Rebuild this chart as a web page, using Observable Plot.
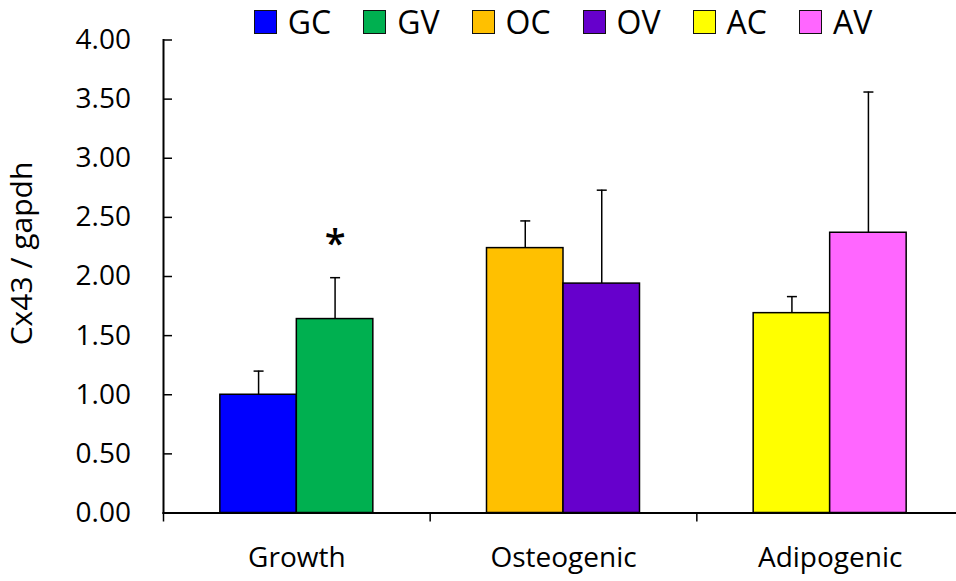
<!DOCTYPE html>
<html>
<head>
<meta charset="utf-8">
<script src="https://cdn.jsdelivr.net/npm/d3@7"></script>
<script src="https://cdn.jsdelivr.net/npm/@observablehq/plot@0.6"></script>
<style>
  html, body { margin: 0; padding: 0; background: #fff; }
  #chart { position: relative; width: 956px; height: 581px; font-family: "Open Sans", sans-serif; overflow: hidden; }
  #legend {
    position: absolute; top: 0; left: 163px; width: 800px; z-index: 1;
    display: flex; justify-content: center;
    font-size: 32px; line-height: normal; color: #000;
  }
  #legend .item { white-space: nowrap; margin-right: 32px; }
  #legend .item:last-child { margin-right: 0; }
  #legend .swatch {
    display: inline-block; box-sizing: border-box; width: 23px; height: 24px;
    border: 1.5px solid #111; margin-right: 11px; vertical-align: baseline;
  }
</style>
</head>
<body>
<div id="chart"><div id="legend"></div></div>
<script>
// Cx43 expression relative to gapdh, by culture medium (mean + SD)
const groups = ["Growth", "Osteogenic", "Adipogenic"];
const series = ["GC", "GV", "OC", "OV", "AC", "AV"];
const seriesGroup = ["Growth", "Growth", "Osteogenic", "Osteogenic", "Adipogenic", "Adipogenic"];
const condition = ["C", "V", "C", "V", "C", "V"];
const means = [1.00, 1.64, 2.24, 1.94, 1.69, 2.37];
const errors = [0.20, 0.35, 0.23, 0.79, 0.14, 1.19];
const significance = ["", "*", "", "", "", ""];
const colors = ["#0000ff", "#00b050", "#ffc000", "#6600cc", "#ffff00", "#ff66ff"];
const yTicks = [0, 0.5, 1, 1.5, 2, 2.5, 3, 3.5, 4];
const yLabel = "Cx43 / gapdh";

const rows = series.map((s, i) => ({
  series: s,
  group: seriesGroup[i],
  cond: condition[i],
  mean: means[i],
  top: means[i] + errors[i],
  sig: significance[i]
}));

// legend
const legend = d3.select("#legend");
series.forEach((s, i) => {
  const item = legend.append("span").attr("class", "item");
  item.append("span").attr("class", "swatch").style("background", colors[i]);
  item.append("span").text(s);
});

const W = 956, H = 581, ML = 163, MR = -7, MT = 39.5, MB = 68.5;
const step = (W - ML - MR) / groups.length;

// short horizontal cap for error bars
const capSymbol = {
  draw(ctx, size) {
    const r = Math.sqrt(size / Math.PI);
    ctx.moveTo(-r, 0);
    ctx.lineTo(r, 0);
  }
};

const chart = Plot.plot({
  width: W, height: H,
  marginLeft: ML, marginRight: MR, marginTop: MT, marginBottom: MB,
  style: {fontFamily: "'Open Sans', sans-serif", color: "#000", background: "#fff"},
  fx: {domain: groups, padding: 0, round: false},
  x: {domain: ["C", "V"], paddingInner: 0, paddingOuter: 0.743, round: false, axis: null},
  y: {domain: [0, 4]},
  color: {domain: series, range: colors},
  marks: [
    Plot.ruleX(rows, {fx: "group", x: "cond", y1: "mean", y2: "top", stroke: "#000", strokeWidth: 1.5}),
    Plot.dot(rows, {fx: "group", x: "cond", y: "top", r: 5, symbol: capSymbol, stroke: "#000", strokeWidth: 1.5}),
    Plot.barY(rows, {fx: "group", x: "cond", y: "mean", fill: "series", stroke: "#000", strokeWidth: 1.5}),
    Plot.text(rows.filter(d => d.sig), {fx: "group", x: "cond", y: "top", text: "sig", fontSize: 38, fontWeight: 600, dy: -33}),
    Plot.frame({anchor: "left", facetAnchor: "left", strokeWidth: 2}),
    Plot.frame({anchor: "bottom", strokeWidth: 2}),
    Plot.axisY({ticks: yTicks, tickFormat: ".2f", tickSize: 0, tickPadding: 32.5, fontSize: 28, label: null}),
    Plot.axisY({ticks: yTicks, tickFormat: () => "", tickSize: 9, dx: 9, strokeWidth: 1.5, label: null}),
    Plot.axisFx({anchor: "bottom", tickSize: 0, tickPadding: 34.6, fontSize: 28, label: null}),
    Plot.axisFx({anchor: "bottom", tickSize: 9, dx: -step / 2, tickFormat: () => "", strokeWidth: 1.5, label: null}),
    Plot.text([yLabel], {frameAnchor: "left", facetAnchor: "left", rotate: -90, textAnchor: "middle", dx: -141, dy: -23, fontSize: 30})
  ]
});

document.getElementById("chart").append(chart);
</script>
</body>
</html>
